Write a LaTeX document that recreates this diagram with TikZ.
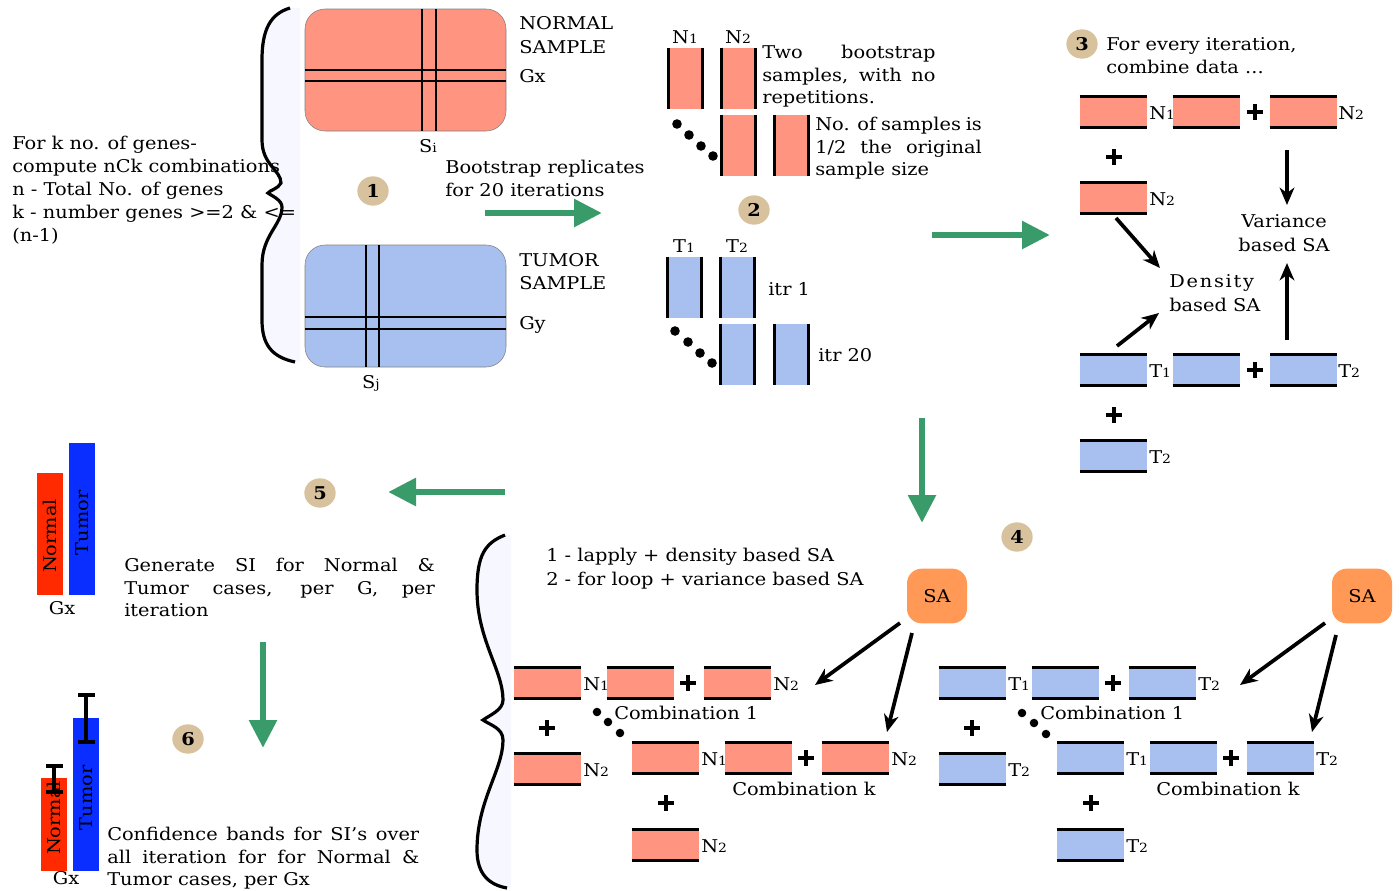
\documentclass[tikz,border=0pt]{standalone}
\usepackage{fontspec}
\setmainfont{DejaVu Serif}[FakeStretch=1.1]
\usetikzlibrary{arrows.meta,shapes.geometric}
\definecolor{salmon}{RGB}{255,148,128}
\definecolor{skyb}{RGB}{168,192,240}
\definecolor{tanc}{RGB}{216,194,157}
\definecolor{grn}{RGB}{58,155,106}
\definecolor{orng}{RGB}{255,153,85}
\definecolor{bracefill}{RGB}{247,248,255}
\definecolor{redbar}{RGB}{255,42,0}
\definecolor{bluebar}{RGB}{10,46,255}
\newcommand\fs{\fontsize{13.2}{16}\selectfont}
\newcommand\sm{\fontsize{9.5}{9.5}\selectfont}
\newcommand\HB[4]{%
  \node[hbox,fill=#4] (#1) at (#2+33.5,#3+15) {};
  \draw[blk] (#1.north west) -- (#1.north east) (#1.south west) -- (#1.south east);}
\newcommand\VB[4]{%
  \node[vbox,fill=#4] (#1) at (#2+16.5,#3+30.5) {};
  \draw[blk] (#1.north west) -- (#1.south west) (#1.north east) -- (#1.south east);}
\tikzset{
  x=0.75pt, y=-0.75pt,
  txt/.style={inner sep=0pt, anchor=base west, font=\fs},
  ctxt/.style={inner sep=0pt, anchor=base, font=\fs},
  hbox/.style={minimum width=50.25pt, minimum height=22.5pt, inner sep=0pt},
  vbox/.style={minimum width=24.75pt, minimum height=45.75pt, inner sep=0pt},
  blk/.style={line width=2.2pt},
  numc/.style={ellipse, fill=tanc, minimum width=23.5pt, minimum height=22pt, inner sep=0pt, font=\bfseries\fs},
  garrow/.style={draw=grn, line width=5pt, -{Triangle[length=21pt,width=20pt]}},
  barrow/.style={line width=2.8pt, -{Stealth[length=13pt,width=11pt,inset=4pt]}},
  sabox/.style={rounded corners=11pt, fill=orng, minimum width=45pt, minimum height=41pt, font=\fs},
  errb/.style={line width=2.6pt},
  plussign/.pic={\draw[line width=3pt] (-8,0)--(8,0) (0,-8)--(0,8);},
}
\begin{document}
\begin{tikzpicture}
\useasboundingbox (0,0) rectangle (1400,890);
% ---------- step 1 brace ----------
\fill[bracefill] (290,8) .. controls (270,14) and (262,30) .. (262,60) -- (262,140)
  .. controls (262,165) and (281,170) .. (281,183) .. controls (278,189) and (270,190) .. (268,193)
  .. controls (272,196) and (282,200) .. (282,207) .. controls (282,225) and (262,235) .. (262,265)
  -- (262,320) .. controls (262,345) and (272,357) .. (295,362) -- (300,362) -- (300,8) -- cycle;
\draw[line width=2.4pt] (290,8) .. controls (270,14) and (262,30) .. (262,60) -- (262,140)
  .. controls (262,165) and (281,170) .. (281,183) .. controls (278,189) and (270,190) .. (268,193)
  .. controls (272,196) and (282,200) .. (282,207) .. controls (282,225) and (262,235) .. (262,265)
  -- (262,320) .. controls (262,345) and (272,357) .. (295,362);
\node[txt] (l1) at (12,149) {For k no. of genes-};
\node[txt] (l2) at (12,172) {compute nCk combinations};
\node[txt] (l3) at (12,195) {n - Total No. of genes};
\node[txt] (l4) at (12,218) {k - number genes >=2 \& <=};
\node[txt] (l5) at (12,241) {(n-1)};
% normal sample
\node[draw=gray, fill=salmon, rounded corners=15pt, minimum width=150.75pt, minimum height=91.5pt] (norm) at (405.5,70) {};
\draw[blk] (305,70) -- (506,70) (305,81) -- (506,81) (422,9) -- (422,131) (436,9) -- (436,131);
\node[draw=gray, fill=skyb, rounded corners=15pt, minimum width=150.75pt, minimum height=91.5pt] (tum) at (405.5,306) {};
\draw[blk] (305,317) -- (506,317) (305,329) -- (506,329) (366,245) -- (366,367) (379,245) -- (379,367);
\node[ctxt] (si) at (428,152) {S{\sm i}};
\node[ctxt] (sj) at (371,388) {S{\sm j}};
\node[txt] (nl1) at (519,29) {NORMAL};
\node[txt] (nl2) at (519,53) {SAMPLE};
\node[txt] (gx) at (519,82) {Gx};
\node[txt] (tl1) at (519,266) {TUMOR};
\node[txt] (tl2) at (519,289) {SAMPLE};
\node[txt] (gy) at (519,329) {Gy};
\node[numc] (c1) at (373,191) {1};
\node[txt] (bs1) at (445,173) {Bootstrap replicates};
\node[txt] (bs2) at (445,196) {for 20 iterations};
\coordinate (g1s) at (485,213); \coordinate (g1e) at (602,213);
\draw[garrow] (g1s) -- (g1e);
% ---------- step 2 ----------
\node[ctxt] at (685,43) {N{\sm 1}};
\node[ctxt] at (738,43) {N{\sm 2}};
\VB{v1}{669}{48}{salmon}
\VB{v2}{722}{48}{salmon}
\VB{v3}{722}{115}{salmon}
\VB{v4}{775}{115}{salmon}
\foreach \p/\q in {677/124,689/135,701/146,713/156} \fill (\p,\q) circle (3.6pt);
\node[txt] at (762,58) {\makebox[130pt][s]{Two bootstrap}};
\node[txt] at (762,81) {\makebox[130pt][s]{samples, with no}};
\node[txt] at (762,103) {repetitions.};
\node[txt] at (815,130) {\makebox[125pt][s]{No. of samples is}};
\node[txt] at (815,153) {\makebox[125pt][s]{1/2 the original}};
\node[txt] at (815,175) {sample size};
\node[numc] (c2) at (754,210) {2};
\node[ctxt] at (684,252) {T{\sm 1}};
\node[ctxt] at (737,252) {T{\sm 2}};
\VB{w1}{668}{257}{skyb}
\VB{w2}{721}{257}{skyb}
\VB{w3}{721}{324}{skyb}
\VB{w4}{775}{324}{skyb}
\foreach \p/\q in {675/331,688/342,700/353,712/363} \fill (\p,\q) circle (3.6pt);
\node[txt] at (768,295) {itr 1};
\node[txt] at (818,361) {itr 20};
\coordinate (g2s) at (932,235); \coordinate (g2e) at (1050,235);
\draw[garrow] (g2s) -- (g2e);
% ---------- step 3 ----------
\node[numc] (c3) at (1082,44) {3};
\node[txt] at (1106,50) {For every iteration,};
\node[txt] at (1106,73) {combine data ...};
\HB{n3a}{1080}{97}{salmon}
\node[txt] at (1149,119) {N{\sm 1}};
\HB{n3b}{1173}{97}{salmon}
\pic at (1255,112) {plussign};
\HB{n3c}{1270}{97}{salmon}
\node[txt] at (1338,119) {N{\sm 2}};
\pic at (1114,157) {plussign};
\HB{n3d}{1080}{183}{salmon}
\node[txt] at (1149,205) {N{\sm 2}};
\HB{t3a}{1080}{355}{skyb}
\node[txt] at (1149,377) {T{\sm 1}};
\HB{t3b}{1173}{355}{skyb}
\pic at (1255,370) {plussign};
\HB{t3c}{1270}{355}{skyb}
\node[txt] at (1338,377) {T{\sm 2}};
\pic at (1114,415) {plussign};
\HB{t3d}{1080}{441}{skyb}
\node[txt] at (1149,463) {T{\sm 2}};
\node[ctxt] (var1) at (1284,227) {Variance};
\node[ctxt] (var2) at (1284,251) {based SA};
\node[txt] (den1) at (1169,287) {\addfontfeature{LetterSpace=10}Density};
\node[txt] (den2) at (1169,311) {based SA};
\coordinate (a1s) at (1287,150); \coordinate (a1e) at (1287,205);
\coordinate (a2s) at (1116,218); \coordinate (a2e) at (1160,268);
\coordinate (a3s) at (1117,346); \coordinate (a3e) at (1159,313);
\coordinate (a4s) at (1287,340); \coordinate (a4e) at (1287,263);
\draw[barrow] (a1s) -- (a1e);
\draw[barrow] (a2s) -- (a2e);
\draw[barrow] (a3s) -- (a3e);
\draw[barrow] (a4s) -- (a4e);
\coordinate (g3s) at (922,418); \coordinate (g3e) at (922,523);
\draw[garrow] (g3s) -- (g3e);
% ---------- step 4 ----------
\node[numc] (c4) at (1017,537) {4};
\fill[bracefill] (505,535) .. controls (485,543) and (477,555) .. (477,590) .. controls (477,640) and (503,670) .. (503,700)
  .. controls (503,710) and (490,715) .. (483,720) .. controls (490,725) and (503,728) .. (503,740)
  .. controls (503,770) and (477,800) .. (477,850) .. controls (477,875) and (490,885) .. (507,888)
  -- (511,888) -- (511,535) -- cycle;
\draw[line width=2.4pt] (505,535) .. controls (485,543) and (477,555) .. (477,590) .. controls (477,640) and (503,670) .. (503,700)
  .. controls (503,710) and (490,715) .. (483,720) .. controls (490,725) and (503,728) .. (503,740)
  .. controls (503,770) and (477,800) .. (477,850) .. controls (477,875) and (490,885) .. (507,888);
\node[txt] at (546,561) {1 - lapply + density based SA};
\node[txt] at (546,585) {2 - for loop + variance based SA};
\node[sabox] (sa1) at (937,596) {SA};
\node[sabox] (sa2) at (1362,596) {SA};
% N combinations
\HB{b1}{514}{668}{salmon}
\node[txt] at (583,690) {N{\sm 1}};
\HB{b2}{607}{668}{salmon}
\pic at (688,683) {plussign};
\HB{b3}{704}{668}{salmon}
\node[txt] at (773,690) {N{\sm 2}};
\pic at (547,728) {plussign};
\HB{b4}{514}{754}{salmon}
\node[txt] at (583,776) {N{\sm 2}};
\HB{b5}{632}{743}{salmon}
\node[txt] at (701,765) {N{\sm 1}};
\HB{b6}{725}{743}{salmon}
\pic at (806,758) {plussign};
\HB{b7}{822}{743}{salmon}
\node[txt] at (891,765) {N{\sm 2}};
\pic at (666,803) {plussign};
\HB{b8}{632}{830}{salmon}
\node[txt] at (701,852) {N{\sm 2}};
\foreach \p/\q in {597/712,608/722,620/733} \fill (\p,\q) circle (3.2pt);
\node[txt] at (614,719) {Combination 1};
\node[txt] at (732,795) {Combination k};
% T combinations
\HB{e1}{939}{668}{skyb}
\node[txt] at (1008,690) {T{\sm 1}};
\HB{e2}{1032}{668}{skyb}
\pic at (1113,683) {plussign};
\HB{e3}{1129}{668}{skyb}
\node[txt] at (1198,690) {T{\sm 2}};
\pic at (972,728) {plussign};
\HB{e4}{939}{754}{skyb}
\node[txt] at (1008,776) {T{\sm 2}};
\HB{e5}{1057}{743}{skyb}
\node[txt] at (1126,765) {T{\sm 1}};
\HB{e6}{1150}{743}{skyb}
\pic at (1231,758) {plussign};
\HB{e7}{1247}{743}{skyb}
\node[txt] at (1316,765) {T{\sm 2}};
\pic at (1091,803) {plussign};
\HB{e8}{1057}{830}{skyb}
\node[txt] at (1126,852) {T{\sm 2}};
\foreach \p/\q in {1022/713,1034/723,1046/734} \fill (\p,\q) circle (3.2pt);
\node[txt] at (1040,719) {Combination 1};
\node[txt] at (1156,795) {Combination k};
\coordinate (s1a) at (900,623); \coordinate (s1ae) at (815,685);
\coordinate (s1b) at (912,633); \coordinate (s1be) at (887,732);
\coordinate (s2a) at (1325,623); \coordinate (s2ae) at (1240,685);
\coordinate (s2b) at (1336,635); \coordinate (s2be) at (1312,732);
\draw[barrow] (s1a) -- (s1ae);
\draw[barrow] (s1b) -- (s1be);
\draw[barrow] (s2a) -- (s2ae);
\draw[barrow] (s2b) -- (s2be);
% ---------- step 5 ----------
\coordinate (g4s) at (505,492); \coordinate (g4e) at (388,492);
\draw[garrow] (g4s) -- (g4e);
\node[numc] (c5) at (320,493) {5};
\node[fill=redbar, minimum width=19.5pt, minimum height=91.5pt, inner sep=0pt] (rb1) at (50,534) {};
\node[fill=bluebar, minimum width=19.5pt, minimum height=114pt, inner sep=0pt] (bb1) at (82,519) {};
\node[rotate=90, font=\fs, inner sep=0pt] at (50,536) {Normal};
\node[rotate=90, font=\fs, inner sep=0pt] at (82,523) {Tumor};
\node[ctxt] at (62,614) {Gx};
\node[txt] at (124,571) {\makebox[233pt][s]{Generate SI for Normal \&}};
\node[txt] at (124,594) {\makebox[233pt][s]{Tumor cases, per G, per}};
\node[txt] at (124,616) {iteration};
\coordinate (g5s) at (263,642); \coordinate (g5e) at (263,748);
\draw[garrow] (g5s) -- (g5e);
% ---------- step 6 ----------
\node[numc] (c6) at (188,739) {6};
\node[fill=redbar, minimum width=19.5pt, minimum height=69.75pt, inner sep=0pt] (rb2) at (54,824.5) {};
\node[fill=bluebar, minimum width=19.5pt, minimum height=114.75pt, inner sep=0pt] (bb2) at (86,794.5) {};
\node[rotate=90, font=\fs, inner sep=0pt] at (54,818) {Normal};
\node[rotate=90, font=\fs, inner sep=0pt] at (86,798) {Tumor};
\draw[errb] (86,695) -- (86,742) (78,695) -- (95,695) (78,742) -- (95,742);
\draw[errb] (54,766) -- (54,792) (46,766) -- (63,766) (46,792) -- (63,792);
\node[ctxt] at (66,884) {Gx};
\node[txt] at (107,840) {\makebox[234pt][s]{Confidence bands for SI’s over}};
\node[txt] at (107,863) {\makebox[234pt][s]{all iteration for for Normal \&}};
\node[txt] at (107,885) {Tumor cases, per Gx};
\end{tikzpicture}
\end{document}
